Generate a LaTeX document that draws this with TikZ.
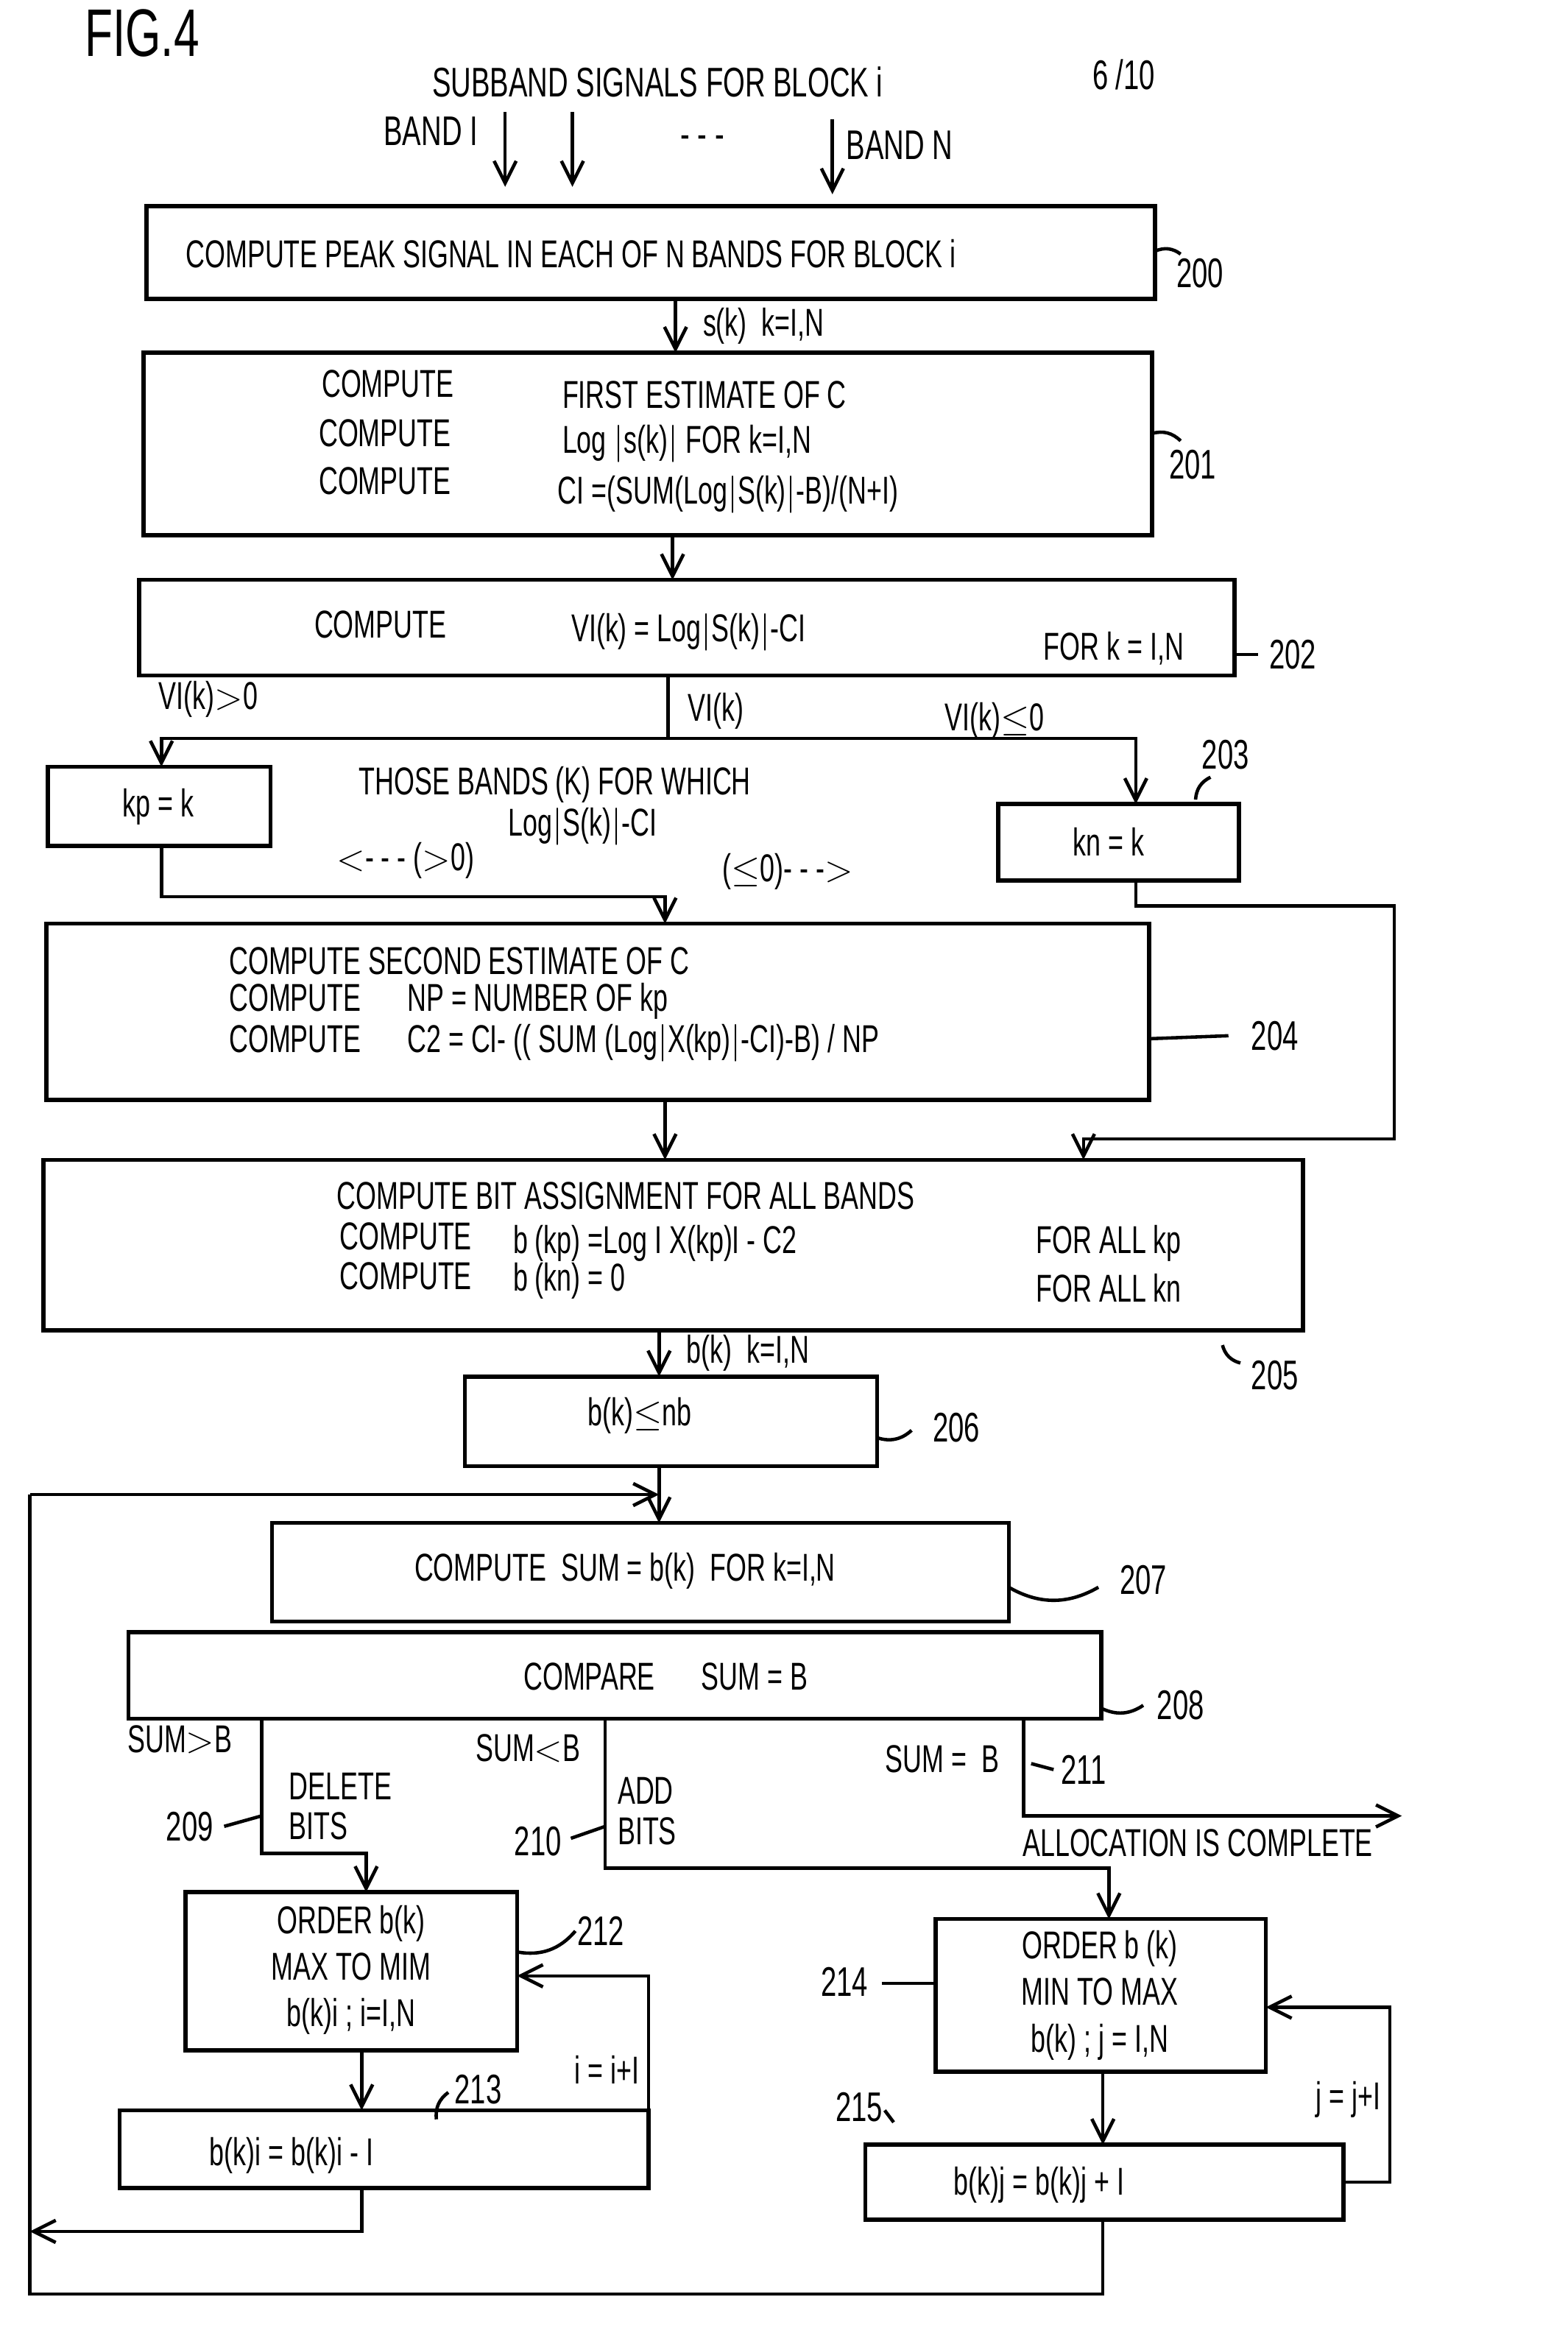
\documentclass[tikz,border=0pt]{standalone}
\usepackage{fontspec}
\setmainfont{Liberation Sans}[FakeStretch=0.68]
\usetikzlibrary{arrows.meta}
\tikzset{
    box/.style={draw, line width=1.6pt},
    txt/.style={anchor=west, inner sep=0pt, font=\fontsize{15}{18}\selectfont},
    ref/.style={inner sep=0pt, font=\fontsize{16}{18}\selectfont},
    flow/.style={line width=1.3pt, -{Straight Barb[length=3mm,width=3mm]}},
    line/.style={line width=1.3pt}
}
\begin{document}
\begin{tikzpicture}[x=0.0203cm, y=-0.0203cm]
    \useasboundingbox (0,0) rectangle (1049,1563);
    % header
    \node[ref, font=\fontsize{26}{30}\selectfont] (fig) at (95,22) {FIG.4};
    \node[ref] (title) at (440,55) {SUBBAND SIGNALS FOR BLOCK i};
    \node[ref] (page) at (752,50) {6 /10};
    \node[ref, anchor=east] (b1) at (320,88) {BAND I};
    \node[ref, anchor=west] (bn) at (566,97) {BAND N};
    \node[ref] (dots) at (470,95) {- - -};
    \coordinate (i1) at (338,75); \coordinate (i2) at (383,75); \coordinate (i3) at (557,80);
    % boxes
    \draw[box] (98,138) rectangle (773,200);
    \node[txt] at (124,170) {COMPUTE PEAK SIGNAL IN EACH OF N BANDS FOR BLOCK i};
    \draw[box] (96,236) rectangle (771,358);
    \node[txt] at (215,257) {COMPUTE}; \node[txt] at (376,264) {FIRST ESTIMATE OF C};
    \node[txt] at (213,290) {COMPUTE}; \node[txt] at (376,297) {Log $|$s(k)$|$ FOR k=I,N};
    \node[txt] at (213,322) {COMPUTE}; \node[txt] at (373,331) {CI =(SUM(Log$|$S(k)$|$-B)/(N+I)};
    \draw[box] (93,388) rectangle (826,452);
    \node[txt] at (210,418) {COMPUTE}; \node[txt] at (382,423) {VI(k) = Log$|$S(k)$|$-CI};
    \node[txt] at (698,434) {FOR k = I,N};
    \draw[box] (32,513) rectangle (181,566);
    \node (kp) at (106,540) [txt, anchor=center] {kp = k};
    \draw[box] (668,538) rectangle (829,589);
    \node (kn) at (742,563) [txt, anchor=center] {kn = k};
    \draw[box] (31,618) rectangle (769,736);
    \node[txt] at (153,643) {COMPUTE SECOND ESTIMATE OF C};
    \node[txt] at (153,670) {COMPUTE \quad NP = NUMBER OF kp};
    \node[txt] at (153,698) {COMPUTE \quad C2 = CI- (( SUM (Log$|$X(kp)$|$-CI)-B) / NP};
    \draw[box] (29,776) rectangle (872,890);
    \node[txt] at (225,800) {COMPUTE BIT ASSIGNMENT FOR ALL BANDS};
    \node[txt] at (227,827) {COMPUTE}; \node[txt] at (343,832) {b (kp) =Log I X(kp)I - C2};
    \node[txt] at (227,854) {COMPUTE}; \node[txt] at (343,857) {b (kn) = 0};
    \node[txt] at (693,832) {FOR ALL kp}; \node[txt] at (693,862) {FOR ALL kn};
    \draw[box] (311,921) rectangle (587,981);
    \node[txt, anchor=center] at (428,947) {b(k)$\leq$nb};
    \draw[box] (182,1019) rectangle (675,1085);
    \node[txt] at (277,1051) {COMPUTE \ SUM = b(k) \ FOR k=I,N};
    \draw[box] (86,1092) rectangle (737,1150);
    \node[txt] at (350,1122) {COMPARE \quad SUM = B};
    \draw[box] (124,1266) rectangle (346,1372);
    \node[txt, anchor=center, align=center] at (235,1318) {ORDER b(k)\\MAX TO MIM\\b(k)i ; i=I,N};
    \draw[box] (80,1412) rectangle (434,1464);
    \node[txt] at (140,1442) {b(k)i = b(k)i - I};
    \draw[box] (626,1284) rectangle (847,1386);
    \node[txt, anchor=center, align=center] at (736,1335) {ORDER b (k)\\MIN TO MAX\\b(k) ; j = I,N};
    \draw[box] (579,1435) rectangle (899,1485);
    \node[txt] at (638,1462) {b(k)j = b(k)j + I};
    % inputs
    \draw[flow] (i1) -- (338,125);
    \draw[flow] (i2) -- (383,125);
    \draw[flow] (i3) -- (557,130);
    % main flow
    \draw[flow] (452,200) -- (452,236) node[midway, right=10pt, txt] {s(k) \ k=I,N};
    \draw[flow] (450,358) -- (450,388);
    \coordinate (fork) at (447,494);
    \draw[line] (447,452) -- (fork);
    \draw[flow] (fork) -- (108,494) -- (108,513);
    \draw[flow] (fork) -- (760,494) -- (760,538);
    \node[txt] at (106,468) {VI(k)$>$0};
    \node[txt] at (460,476) {VI(k)};
    \node[txt] at (632,482) {VI(k)$\leq$0};
    \node[txt] at (240,525) {THOSE BANDS (K) FOR WHICH};
    \node[txt] at (340,553) {Log$|$S(k)$|$-CI};
    \node[txt] at (225,576) {$<$- - - ($>$0)};
    \node[txt] at (483,583) {($\leq$0)- - -$>$};
    \draw[flow] (108,566) -- (108,600) -- (445,600) -- (445,618);
    \draw[flow] (760,589) -- (760,606) -- (933,606) -- (933,762) -- (725,762) -- (725,776);
    \draw[flow] (445,736) -- (445,776);
    \draw[flow] (441,890) -- (441,921) node[midway, right=10pt, txt] {b(k) \ k=I,N};
    \draw[flow] (441,981) -- (441,1019);
    \draw[flow] (738,1386) -- (738,1435);
    \draw[line] (738,1485) -- (738,1535) -- (20,1535) -- (20,1000);
    \draw[flow] (20,1000) -- (441,1000);
    % branches
    \draw[flow] (175,1150) -- (175,1240) -- (245,1240) -- (245,1266);
    \node[txt] at (85,1164) {SUM$>$B};
    \node[txt] at (193,1195) {DELETE};
    \node[txt] at (193,1222) {BITS};
    \draw[flow] (405,1150) -- (405,1250) -- (742,1250) -- (742,1284);
    \node[txt] at (318,1170) {SUM$<$B};
    \node[txt] at (413,1198) {ADD};
    \node[txt] at (413,1225) {BITS};
    \draw[flow] (685,1150) -- (685,1215) -- (938,1215);
    \node[txt] at (592,1177) {SUM = \ B};
    \node[txt] at (684,1233) {ALLOCATION IS COMPLETE};
    % loops
    \draw[flow] (242,1372) -- (242,1412);
    \draw[flow] (434,1450) -- (434,1322) -- (346,1322);
    \node[txt, anchor=east] at (428,1385) {i = i+I};
    \draw[flow] (242,1464) -- (242,1493) -- (20,1493);
    \draw[flow] (899,1460) -- (930,1460) -- (930,1343) -- (847,1343);
    \node[txt, anchor=east] at (924,1405) {j = j+I};
    % reference numerals
    \node[ref] at (803,183) {200}; \draw[line] (773,168) to[bend left] (790,170);
    \node[ref] at (798,311) {201}; \draw[line] (771,290) to[bend left] (790,295);
    \node[ref] at (865,438) {202}; \draw[line] (826,438) -- (842,438);
    \node[ref] at (820,505) {203}; \draw[line] (800,535) to[bend left] (810,520);
    \node[ref] at (853,693) {204}; \draw[line] (769,695) -- (822,693);
    \node[ref] at (853,920) {205}; \draw[line] (818,900) to[bend right] (830,912);
    \node[ref] at (640,955) {206}; \draw[line] (587,962) to[bend right] (610,957);
    \node[ref] at (765,1057) {207}; \draw[line] (675,1062) to[bend right] (735,1062);
    \node[ref] at (790,1141) {208}; \draw[line] (737,1143) to[bend right] (765,1141);
    \node[ref] at (127,1222) {209}; \draw[line] (150,1222) -- (175,1215);
    \node[ref] at (360,1232) {210}; \draw[line] (382,1230) -- (405,1222);
    \node[ref] at (725,1184) {211}; \draw[line] (690,1180) -- (705,1184);
    \node[ref] at (402,1292) {212}; \draw[line] (346,1306) to[bend right] (385,1292);
    \node[ref] at (320,1398) {213}; \draw[line] (292,1418) to[bend left] (300,1400);
    \node[ref] at (565,1326) {214}; \draw[line] (590,1327) -- (626,1327);
    \node[ref] at (575,1410) {215}; \draw[line] (592,1412) -- (598,1420);
\end{tikzpicture}
\end{document}
